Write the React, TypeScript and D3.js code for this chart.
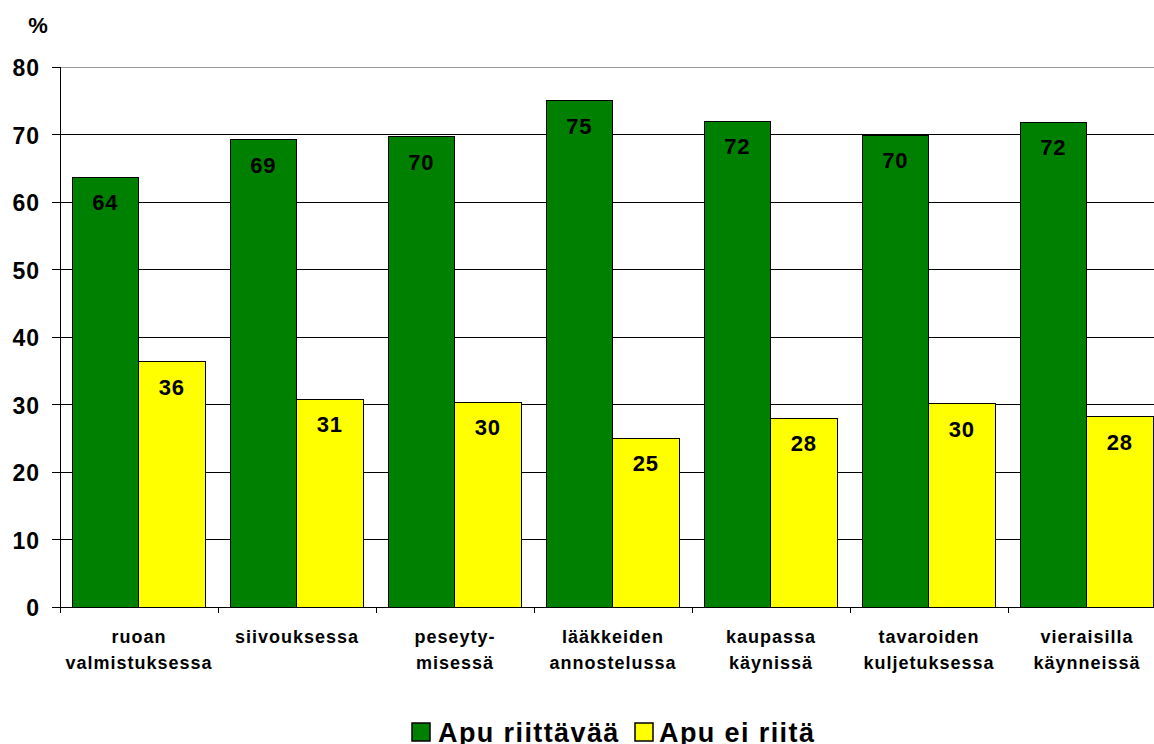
import React from "react";
import * as d3 from "d3";

const categories = [
  ["ruoan", "valmistuksessa"],
  ["siivouksessa"],
  ["peseyty-", "misessä"],
  ["lääkkeiden", "annostelussa"],
  ["kaupassa", "käynissä"],
  ["tavaroiden", "kuljetuksessa"],
  ["vieraisilla", "käynneissä"],
];
const seriesNames = ["Apu riittävää", "Apu ei riitä"];
const riittava = [63.7, 69.2, 69.7, 75.0, 72.0, 69.9, 71.8];
const eiRiita = [36.3, 30.8, 30.3, 25.0, 28.0, 30.1, 28.2];
const yTicks = [0, 10, 20, 30, 40, 50, 60, 70, 80];
const colors = ["#008000", "#FFFF00"];

const W = 1154;
const H = 744;
const left = 60;
const top = 67;
const bottom = 607;
const bandW = 158;

export default function App() {
  const keys = categories.map((c) => c.join(" "));
  const x0 = d3
    .scaleBand()
    .domain(keys)
    .range([left, left + bandW * keys.length])
    .padding(0);
  const x1 = d3.scaleBand().domain(seriesNames).range([12, 145]).padding(0);
  const y = d3.scaleLinear().domain([0, 80]).range([bottom, top]);
  const series = [riittava, eiRiita];

  const font = "Arial, 'Liberation Sans', sans-serif";

  return (
    <div style={{ position: "absolute", left: 0, top: 0, width: W, height: H, background: "#fff" }}>
      <svg width={W} height={H} style={{ display: "block", fontFamily: font }}>
        {/* gridlines */}
        {yTicks.slice(1).map((t) => (
          <line
            key={t}
            x1={left}
            x2={W}
            y1={y(t)}
            y2={y(t)}
            stroke={t === 80 ? "#999" : "#000"}
            strokeWidth={1}
            shapeRendering="crispEdges"
          />
        ))}
        {/* bars */}
        {keys.map((k, i) => (
          <g key={k} transform={`translate(${x0(k)},0)`}>
            {series.map((vals, s) => (
              <g key={s}>
                <rect
                  x={x1(seriesNames[s])}
                  y={y(vals[i])}
                  width={x1.bandwidth()}
                  height={y(0) - y(vals[i])}
                  fill={colors[s]}
                  stroke="#000"
                  strokeWidth={1}
                  shapeRendering="crispEdges"
                />
                <text
                  x={(x1(seriesNames[s]) as number) + x1.bandwidth() / 2}
                  y={y(vals[i]) + 33}
                  textAnchor="middle"
                  fontSize={22}
                  fontWeight="bold"
                  letterSpacing={0.8}
                  fill="#000"
                >
                  {Math.round(vals[i])}
                </text>
              </g>
            ))}
          </g>
        ))}
        {/* y axis */}
        <line x1={left} x2={left} y1={top} y2={bottom} stroke="#000" shapeRendering="crispEdges" />
        {yTicks.map((t) => (
          <g key={t}>
            <line x1={left - 8} x2={left} y1={y(t)} y2={y(t)} stroke="#000" shapeRendering="crispEdges" />
            <text
              x={left - 20}
              y={y(t) + 9}
              textAnchor="end"
              fontSize={23}
              fontWeight="bold"
              letterSpacing={1}
              fill="#000"
            >
              {t}
            </text>
          </g>
        ))}
        <text x={38} y={33} textAnchor="middle" fontSize={22} fontWeight="bold" fill="#000">
          %
        </text>
        {/* x axis */}
        <line x1={left} x2={W} y1={bottom} y2={bottom} stroke="#000" shapeRendering="crispEdges" />
        {keys.map((k, i) => (
          <g key={k}>
            <line
              x1={x0(k)}
              x2={x0(k)}
              y1={bottom}
              y2={bottom + 6}
              stroke="#000"
              shapeRendering="crispEdges"
            />
            {categories[i].map((line, j) => (
              <text
                key={j}
                x={(x0(k) as number) + bandW / 2}
                y={643 + j * 26}
                textAnchor="middle"
                fontSize={18}
                fontWeight="bold"
                letterSpacing={1}
                fill="#000"
              >
                {line}
              </text>
            ))}
          </g>
        ))}
        {/* legend */}
        <g transform="translate(412,723)">
          <rect x={0} y={0} width={18} height={18} fill={colors[0]} stroke="#000" strokeWidth={1.5} />
          <text x={26} y={19} fontSize={27} fontWeight="bold" letterSpacing={1.4} fill="#000">
            {seriesNames[0]}
          </text>
          <rect x={223} y={0} width={18} height={18} fill={colors[1]} stroke="#000" strokeWidth={1.5} />
          <text x={247} y={19} fontSize={27} fontWeight="bold" letterSpacing={1.4} fill="#000">
            {seriesNames[1]}
          </text>
        </g>
      </svg>
    </div>
  );
}
